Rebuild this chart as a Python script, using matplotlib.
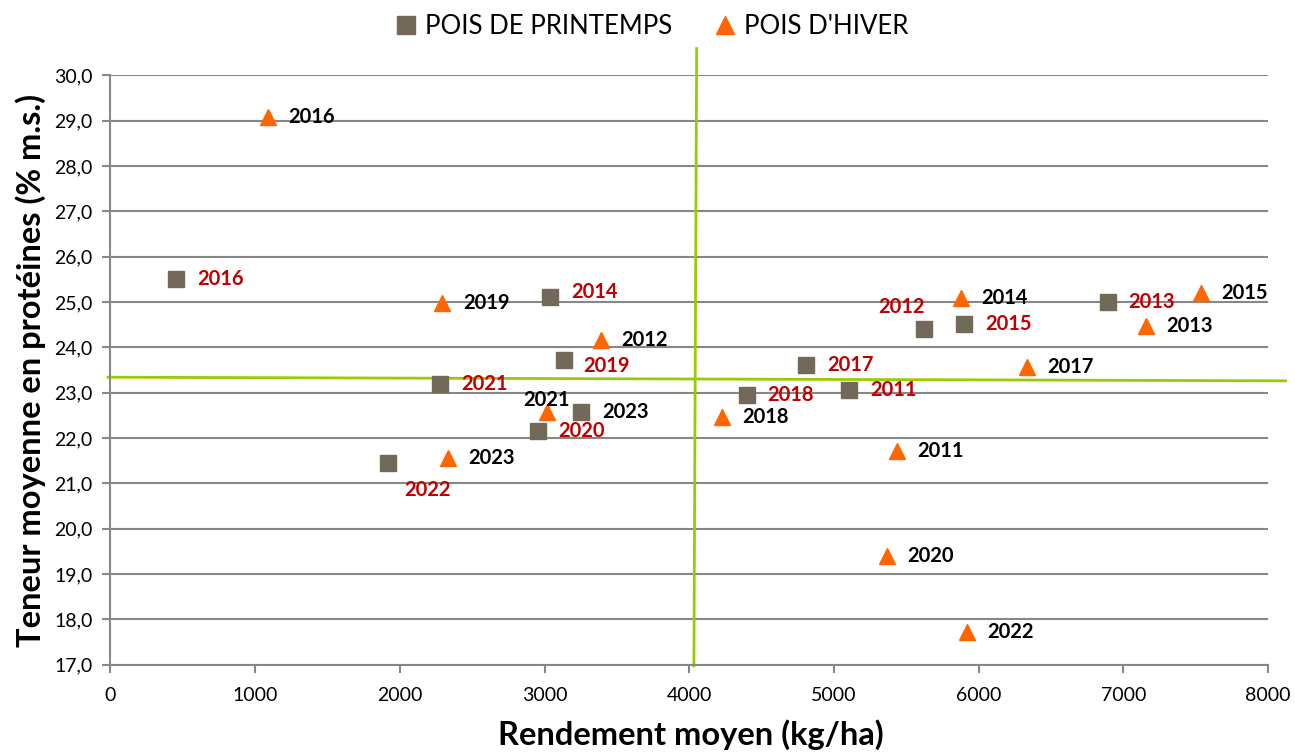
import matplotlib.pyplot as plt
from matplotlib.ticker import FuncFormatter, MultipleLocator

plt.rcParams['font.family'] = ['Lato', 'DejaVu Sans']

# ------------------------------------------------------------
# Data
# ------------------------------------------------------------
years = [2011, 2012, 2013, 2014, 2015, 2016, 2017,
         2018, 2019, 2020, 2021, 2022, 2023]

# Pois de printemps (squares)
spring_yield   = [5106, 5620, 6891, 3037, 5902, 455, 4808,
                  4396, 3136, 2952, 2279, 1917, 3253]
spring_protein = [23.06, 24.40, 25.00, 25.10, 24.51, 25.50, 23.62,
                  22.95, 23.73, 22.15, 23.19, 21.44, 22.58]

# Pois d'hiver (triangles)
winter_yield   = [5434, 3389, 7155, 5876, 7534, 1088, 6331,
                  4223, 2293, 5365, 3016, 5916, 2332]
winter_protein = [21.72, 24.15, 24.47, 25.08, 25.19, 29.09, 23.57,
                  22.47, 24.98, 19.40, 22.57, 17.72, 21.56]

# reference lines (slightly tilted, drawn by hand on the original)
vline_x = [4051, 4032]
vline_y = [30.59, 16.97]
hline_x = [-17, 8121]
hline_y = [23.34, 23.26]

# ------------------------------------------------------------
# Styles
# ------------------------------------------------------------
c_spring = '#726959'
c_winter = '#FF6600'
c_red = '#C00000'
c_grid = '#878787'
c_green = '#99CC00'

# label offsets in points (default: right of the marker)
default_off = (15, 0)
spring_off = {2012: (1, 16), 2022: (12, -19), 2019: (14, -5), 2014: (15, 4)}
winter_off = {2021: (0, 9)}
spring_color = {2023: 'black'}

fig = plt.figure(figsize=(12.95, 7.54), dpi=100)
ax = fig.add_axes([0.0853, 0.1186, 0.8939, 0.7815])

ax.set_xlim(0, 8000)
ax.set_ylim(17, 30)
ax.xaxis.set_major_locator(MultipleLocator(1000))
ax.yaxis.set_major_locator(MultipleLocator(1))
ax.yaxis.set_major_formatter(FuncFormatter(lambda v, p: f"{v:.1f}".replace('.', ',')))

ax.grid(axis='y', color=c_grid, linewidth=1.5)
ax.set_axisbelow(True)
for side in ['top', 'right']:
    ax.spines[side].set_visible(False)
for side in ['left', 'bottom']:
    ax.spines[side].set_color(c_grid)
    ax.spines[side].set_linewidth(1.5)
ax.tick_params(axis='both', colors=c_grid, length=6, width=1.5,
               labelsize=14, labelcolor='black')
ax.tick_params(axis='x', pad=10)
ax.tick_params(axis='y', pad=7)

# reference lines
ax.plot(vline_x, vline_y, color=c_green, lw=2, clip_on=False, zorder=2)
ax.plot(hline_x, hline_y, color=c_green, lw=2, clip_on=False, zorder=2)

sq, = ax.plot(spring_yield, spring_protein, 's', ms=12, color=c_spring,
              ls='none', label="POIS DE PRINTEMPS", zorder=3)
tr, = ax.plot(winter_yield, winter_protein, '^', ms=12, color=c_winter,
              ls='none', label="POIS D'HIVER", zorder=3)

for yr, x, y in zip(years, spring_yield, spring_protein):
    dx, dy = spring_off.get(yr, default_off)
    ha = 'right' if yr == 2012 else 'left'
    ax.annotate(str(yr), (x, y), xytext=(dx, dy), textcoords='offset points',
                ha=ha, va='center', fontsize=14.5, fontweight='bold',
                color=spring_color.get(yr, c_red), zorder=4)

for yr, x, y in zip(years, winter_yield, winter_protein):
    dx, dy = winter_off.get(yr, default_off)
    ha = 'center' if yr == 2021 else 'left'
    ax.annotate(str(yr), (x, y), xytext=(dx, dy), textcoords='offset points',
                ha=ha, va='center', fontsize=14.5, fontweight='bold',
                color='black', zorder=4)

ax.set_xlabel("Rendement moyen (kg/ha)", fontsize=23.5, fontweight='bold')
ax.set_ylabel("Teneur moyenne en protéines (% m.s.)", fontsize=23.5, fontweight='bold')
ax.xaxis.set_label_coords(0.5015, -0.093)
ax.yaxis.set_label_coords(-0.056, 0.5)

fig.legend(handles=[sq, tr], loc='center', bbox_to_anchor=(0.503, 0.9655),
           ncol=2, frameon=False, fontsize=18.5, handlelength=0.9,
           handletextpad=0.3, columnspacing=1.6, markerscale=1.05)

plt.savefig("out.png", dpi=100)
plt.close()
